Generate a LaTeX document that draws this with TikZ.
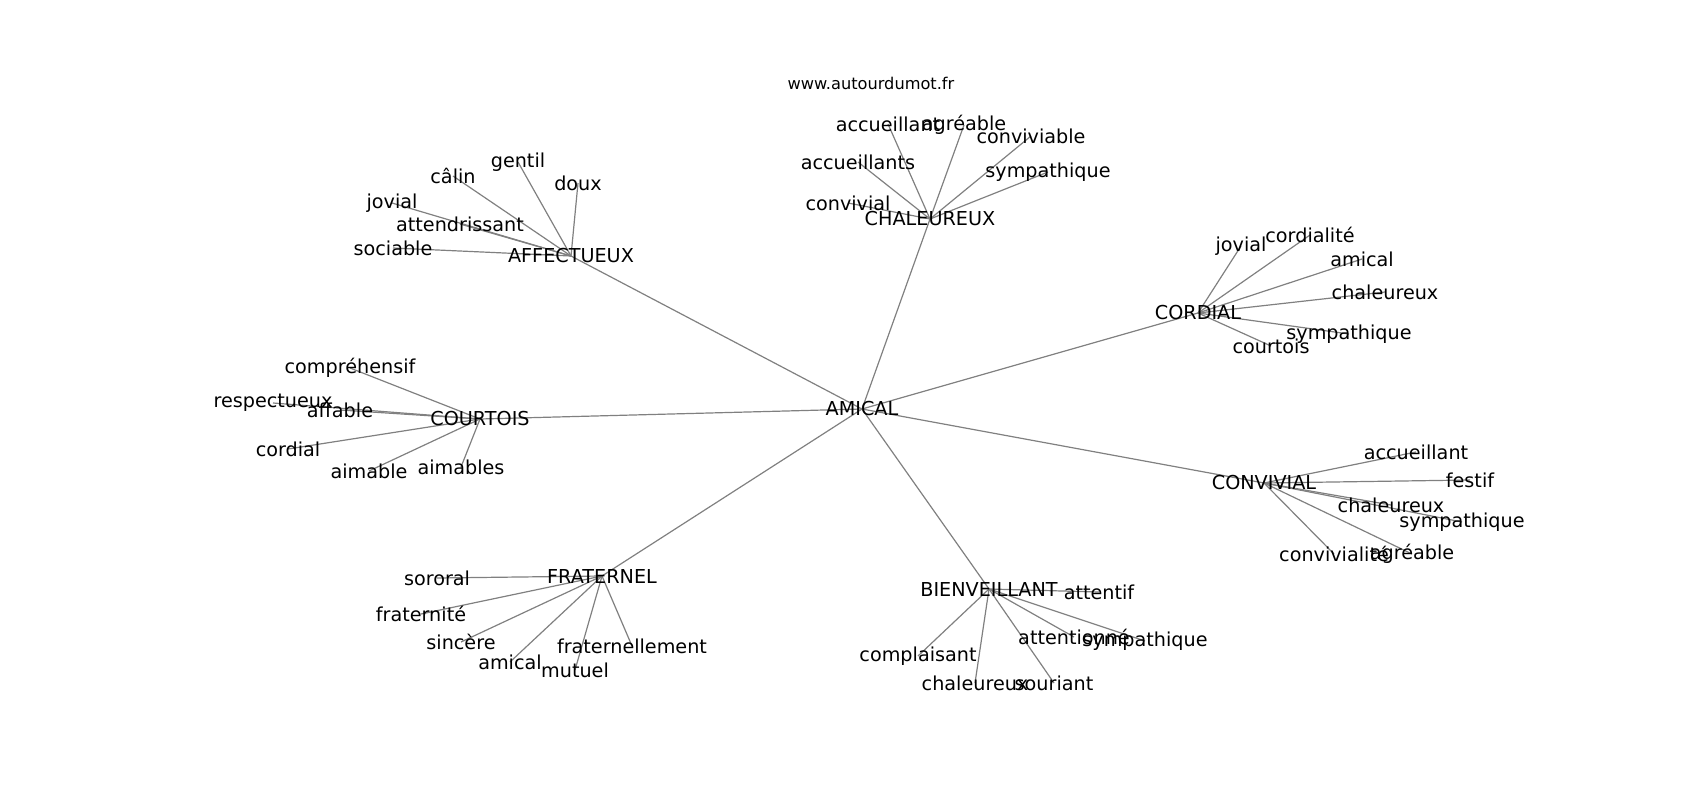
\documentclass[tikz,border=0pt]{standalone}
\usepackage{fontspec}
\setmainfont{DejaVu Sans}
\begin{document}
\begin{tikzpicture}[x=1pt,y=-1pt,
  lbl/.style={inner sep=0pt, font=\fontsize{19.2}{22}\selectfont, text=black},
  ttl/.style={inner sep=0pt, font=\fontsize{16.2}{19}\selectfont, text=black},
  edge/.style={draw=black!50, line width=1.2pt}]
\useasboundingbox (0,0) rectangle (1700,800);
% title
\node[ttl] (title) at (871,83) {www.autourdumot.fr};
% coordinates
\coordinate (AMICAL) at (862,409);
\coordinate (AFF) at (571,256);
\coordinate (CHA) at (930,219);
\coordinate (COR) at (1198,313);
\coordinate (COU) at (480,419);
\coordinate (CON) at (1264,483);
\coordinate (FRA) at (602,576);
\coordinate (BIE) at (989,589);
% AFFECTUEUX leaves
\coordinate (a1) at (518,162);
\coordinate (a2) at (453,176);
\coordinate (a3) at (578,183);
\coordinate (a4) at (392,203);
\coordinate (a5) at (460,224);
\coordinate (a6) at (393,248);
% CHALEUREUX leaves
\coordinate (b1) at (888,124);
\coordinate (b2) at (964,125);
\coordinate (b3) at (1031,136);
\coordinate (b4) at (858,162);
\coordinate (b5) at (1048,172);
\coordinate (b6) at (848,203);
% CORDIAL leaves
\coordinate (c1) at (1241,246);
\coordinate (c2) at (1310,235);
\coordinate (c3) at (1362,259);
\coordinate (c4) at (1385,292);
\coordinate (c5) at (1349,334);
\coordinate (c6) at (1271,346);
% COURTOIS leaves
\coordinate (d1) at (350,368);
\coordinate (d2) at (273,403);
\coordinate (d3) at (340,410);
\coordinate (d4) at (288,449);
\coordinate (d5) at (369,471);
\coordinate (d6) at (461,467);
% CONVIVIAL leaves
\coordinate (e1) at (1416,452);
\coordinate (e2) at (1470,480);
\coordinate (e3) at (1391,505);
\coordinate (e4) at (1462,522);
\coordinate (e5) at (1334,554);
\coordinate (e6) at (1412,554);
% FRATERNEL leaves
\coordinate (f1) at (437,578);
\coordinate (f2) at (421,614);
\coordinate (f3) at (461,642);
\coordinate (f4) at (510,662);
\coordinate (f5) at (575,670);
\coordinate (f6) at (632,646);
% BIENVEILLANT leaves
\coordinate (g1) at (1099,592);
\coordinate (g2) at (1074,637);
\coordinate (g3) at (1145,641);
\coordinate (g4) at (918,656);
\coordinate (g5) at (975,683);
\coordinate (g6) at (1054,683);
% edges
\foreach \h in {AFF,CHA,COR,COU,CON,FRA,BIE} \draw[edge] (AMICAL) -- (\h);
\foreach \i in {1,...,6} {
  \draw[edge] (AFF) -- (a\i);
  \draw[edge] (CHA) -- (b\i);
  \draw[edge] (COR) -- (c\i);
  \draw[edge] (COU) -- (d\i);
  \draw[edge] (CON) -- (e\i);
  \draw[edge] (FRA) -- (f\i);
  \draw[edge] (BIE) -- (g\i);
}
% labels
\node[lbl] (tAMICAL) at (AMICAL) {AMICAL};
\node[lbl] (tAFF) at (AFF) {AFFECTUEUX};
\node[lbl] (tCHA) at (CHA) {CHALEUREUX};
\node[lbl] (tCOR) at (COR) {CORDIAL};
\node[lbl] (tCOU) at (COU) {COURTOIS};
\node[lbl] (tCON) at (CON) {CONVIVIAL};
\node[lbl] (tFRA) at (FRA) {FRATERNEL};
\node[lbl] (tBIE) at (BIE) {BIENVEILLANT};
\node[lbl] (ta1) at (a1) {gentil};
\node[lbl] (ta2) at (a2) {câlin};
\node[lbl] (ta3) at (a3) {doux};
\node[lbl] (ta4) at (a4) {jovial};
\node[lbl] (ta5) at (a5) {attendrissant};
\node[lbl] (ta6) at (a6) {sociable};
\node[lbl] (tb1) at (b1) {accueillant};
\node[lbl] (tb2) at (b2) {agréable};
\node[lbl] (tb3) at (b3) {conviviable};
\node[lbl] (tb4) at (b4) {accueillants};
\node[lbl] (tb5) at (b5) {sympathique};
\node[lbl] (tb6) at (b6) {convivial};
\node[lbl] (tc1) at (c1) {jovial};
\node[lbl] (tc2) at (c2) {cordialité};
\node[lbl] (tc3) at (c3) {amical};
\node[lbl] (tc4) at (c4) {chaleureux};
\node[lbl] (tc5) at (c5) {sympathique};
\node[lbl] (tc6) at (c6) {courtois};
\node[lbl] (td1) at (d1) {compréhensif};
\node[lbl] (td2) at (d2) {respectueux};
\node[lbl] (td3) at (d3) {affable};
\node[lbl] (td4) at (d4) {cordial};
\node[lbl] (td5) at (d5) {aimable};
\node[lbl] (td6) at (d6) {aimables};
\node[lbl] (te1) at (e1) {accueillant};
\node[lbl] (te2) at (e2) {festif};
\node[lbl] (te3) at (e3) {chaleureux};
\node[lbl] (te4) at (e4) {sympathique};
\node[lbl] (te5) at (e5) {convivialité};
\node[lbl] (te6) at (e6) {agréable};
\node[lbl] (tf1) at (f1) {sororal};
\node[lbl] (tf2) at (f2) {fraternité};
\node[lbl] (tf3) at (f3) {sincère};
\node[lbl] (tf4) at (f4) {amical};
\node[lbl] (tf5) at (f5) {mutuel};
\node[lbl] (tf6) at (f6) {fraternellement};
\node[lbl] (tg1) at (g1) {attentif};
\node[lbl] (tg2) at (g2) {attentionné};
\node[lbl] (tg3) at (g3) {sympathique};
\node[lbl] (tg4) at (g4) {complaisant};
\node[lbl] (tg5) at (g5) {chaleureux};
\node[lbl] (tg6) at (g6) {souriant};
\end{tikzpicture}
\end{document}
